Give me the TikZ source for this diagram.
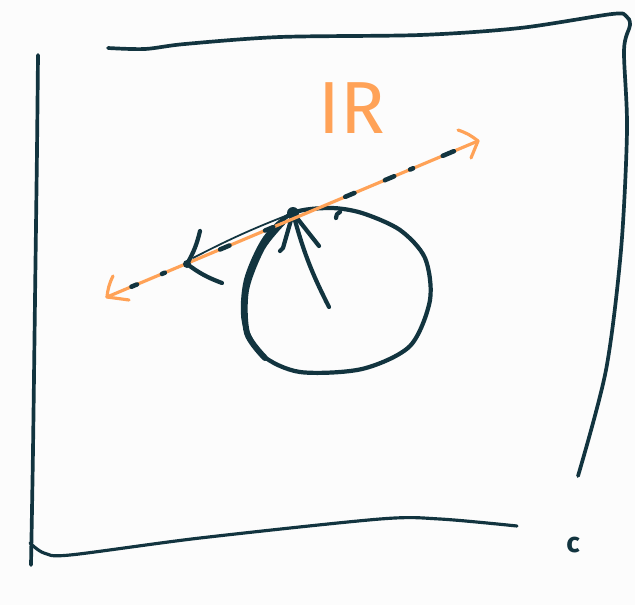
\documentclass[tikz,border=0pt]{standalone}
\usepackage{fontspec}
\usepackage{tikz}
\usetikzlibrary{calc}
\usepackage{tkz-euclide}
\definecolor{ink}{HTML}{12343F}
\definecolor{marker}{HTML}{FFA257}
\definecolor{paper}{HTML}{FCFCFC}
\newfontfamily\sketchfont{Fira Sans}
\tikzset{
  frame line/.style={ink, line width=2.1pt},
  ink line/.style={ink, line width=2.4pt},
  marker line/.style={marker, line width=1.8pt},
}

\begin{document}
\begin{tikzpicture}[x=0.02cm, y=-0.02cm, line cap=round, line join=round]
                \fill[paper] (0,0) rectangle (635,605);
                \useasboundingbox (0,0) rectangle (635,605);
                \tkzDefPoints{333/290/O, 293/213/T, 329/307/S, 107/297/L, 478/141/R, 187/264/K}
                % the frame
                \draw[frame line] plot[smooth] coordinates {(38,55) (37,150) (35,300) (33,450) (31,565)};
                \draw[frame line, line width=1.8pt] plot[smooth] coordinates {(30,543) (44,553) (70,555) (200,538) (380,519) (440,519) (517,526)};
                \draw[frame line] plot[smooth] coordinates {(108,48) (145,49) (185,44) (280,37) (420,35) (520,28) (612,14) (626,16) (630,25) (624,50) (627,130) (621,250) (606,370) (578,476)};
                % the circle
                \draw[ink line] plot[smooth cycle] coordinates {(293,213) (265,238) (246,280) (244,322) (262,355) (300,372) (362,369) (410,346) (430,300) (425,258) (400,230) (362,213) (330,208)};
                \draw[ink line, line width=3.4pt] plot[smooth] coordinates {(283,222) (262,248) (246,290) (247,333) (265,358)};
                % radius to the tangent point
                \draw[ink line] (S) to[bend left=6] (T);
                \draw[ink line] (T) -- (283,248) -- (280,251);
                \draw[ink line] (T) -- (319,246);
                \fill[ink] (T) circle (6);
                % tangent line
                \draw[marker line] (L) -- (R);
                \draw[marker line] (L) to[bend left=10] (113,276);
                \draw[marker line] (L) -- (129,300);
                \draw[marker line] (R) to[bend right=10] (458,130);
                \draw[marker line] (R) -- (471,158);
                \foreach \t/\l in {0.066/0.015, 0.148/0.008, 0.305/0.025, 0.426/0.022, 0.642/0.025, 0.749/0.025, 0.817/0.008, 0.905/0.03}
                  \draw[ink line, line width=2.6pt] ($(L)!\t!(R)$) -- ($(L)!\t+\l!(R)$);
                % moving point
                \draw[ink, line width=1pt] (T) to[bend right=3] (193,258);
                \draw[ink line] (200,231) to[bend left=8] (K) to[bend right=8] (222,283);
                \fill[ink] (K) circle (4);
                \draw[ink line] (336,218) to[bend left=40] (340,212);
                % labels
                \node[text=marker, font=\sketchfont\fontsize{42}{42}\selectfont] (ir) at (352,108) {IR};
                \node[text=ink, font=\sketchfont\bfseries\fontsize{16}{16}\selectfont] (c) at (573,545) {c};
\end{tikzpicture}
\end{document}
